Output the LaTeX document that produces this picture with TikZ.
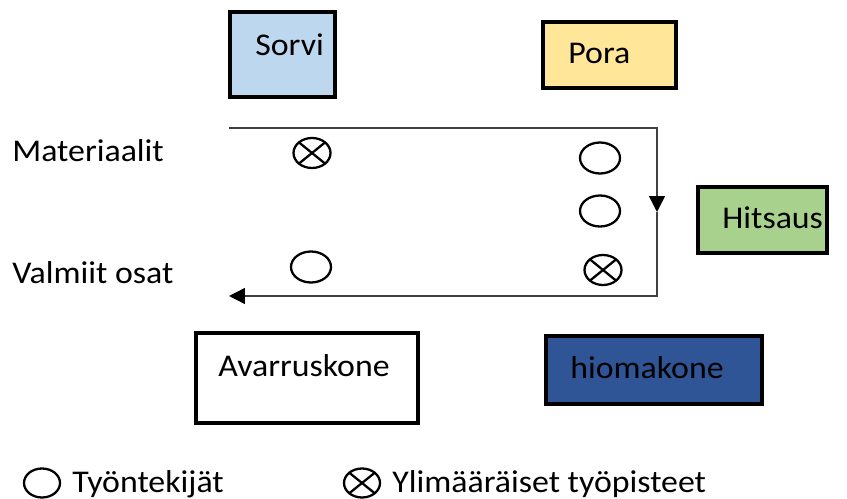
\documentclass[tikz,border=0pt]{standalone}
\usepackage{fontspec}
\setmainfont{Carlito}[FakeStretch=1.07]
\usetikzlibrary{positioning,shapes.geometric,arrows.meta}
\definecolor{sorvicol}{HTML}{BDD7EE}
\definecolor{poracol}{HTML}{FFE699}
\definecolor{hitsauscol}{HTML}{A9D18E}
\definecolor{hiomacol}{HTML}{2F5597}
\def\pu{0.02cm}
\begin{document}
\begin{tikzpicture}[%
    x=0.02cm, y=-0.02cm,
    font=\fontsize{18}{20}\selectfont,
    machine/.style={draw, line width=2.3pt, inner sep=0pt},
    txt/.style={inner sep=0pt, anchor=west},
    worker/.style={draw, ellipse, line width=1.3pt, inner sep=0pt,
        minimum width={40*\pu}, minimum height={31*\pu}},
    extra/.style={worker, minimum width={37*\pu}, minimum height={30*\pu},
        path picture={\draw[line width=1.3pt]
          (path picture bounding box.south west) -- (path picture bounding box.north east)
          (path picture bounding box.north west) -- (path picture bounding box.south east);}},
    flow/.style={draw=black!75, line width=0.8pt, -{Triangle[length=9pt,width=9pt,color=black]}}
  ]
    \useasboundingbox (0,0) rectangle (847,499);

    % koneet
    \node[machine, fill=sorvicol, minimum width={105*\pu}, minimum height={85*\pu}] (sorvi) at (282.5,54.5) {};
    \node[machine, fill=poracol, minimum width={133*\pu}, minimum height={66*\pu}] (pora) at (609.5,55) {};
    \node[machine, fill=hitsauscol, minimum width={129*\pu}, minimum height={66*\pu}] (hitsaus) at (762.5,220) {};
    \node[machine, fill=white, minimum width={222*\pu}, minimum height={90*\pu}] (avarrus) at (307,378) {};
    \node[machine, fill=hiomacol, minimum width={216*\pu}, minimum height={68*\pu}] (hioma) at (654,370) {};

    \node[txt] (sorviT) at (255,45) {Sorvi};
    \node[txt] (poraT) at (568,53) {Pora};
    \node[txt] (hitsausT) at (722,218) {Hitsaus};
    \node[txt] (avarrusT) at (218,366) {Avarruskone};
    \node[txt] (hiomaT) at (570,368) {hiomakone};

    % virtaus
    \node[txt] (mat) at (12,151) {Materiaalit};
    \node[txt] (valm) at (12,273) {Valmiit osat};
    \coordinate (inTop) at (229,128);
    \coordinate (cornerTR) at (657,128);
    \coordinate (midDown) at (657,212);
    \coordinate (cornerBR) at (657,296);
    \coordinate (outEnd) at (229,296);
    \draw[flow] (inTop) -- (cornerTR) -- (midDown);
    \draw[flow] (midDown) -- (cornerBR) -- (outEnd);

    % tyopisteet
    \node[extra] (x1) at (312,153) {};
    \node[worker] (w1) at (600,158) {};
    \node[worker] (w2) at (600,211) {};
    \node[extra] (x2) at (603,270) {};
    \node[worker] (w3) at (311,267) {};

    % selite
    \node[worker, minimum width={36*\pu}, minimum height={29*\pu}] (legW) at (42,483) {};
    \node[txt] (legWT) at (72,484) {Työntekijät};
    \node[extra, minimum width={36*\pu}, minimum height={29*\pu}] (legX) at (362,483) {};
    \node[txt] (legXT) at (392,484) {Ylimääräiset työpisteet};
  \end{tikzpicture}
\end{document}
